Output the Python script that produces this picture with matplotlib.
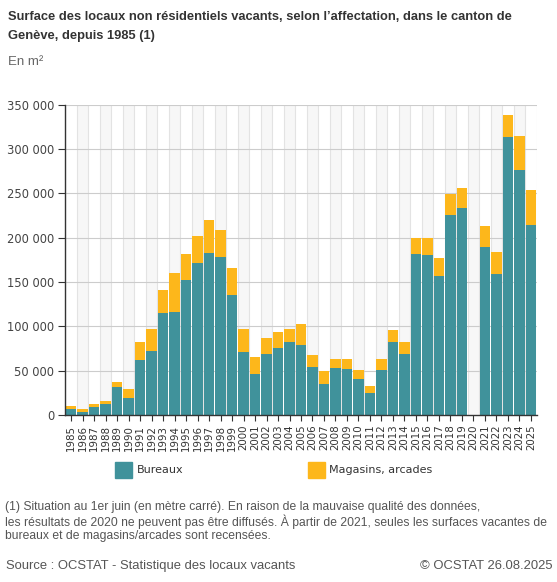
import matplotlib
matplotlib.use("Agg")
import matplotlib.pyplot as plt
import numpy as np
from matplotlib.patches import Rectangle

years = [str(y) for y in range(1985, 2026)]

# total surface (top of stacked bar) and offices; 2020 not published
bureaux = [6800, 3800, 9000, 12800, 32000, 19500, 62400, 72200, 115000, 116500,
           152300, 171400, 182700, 178200, 135300, 71000, 46200, 68800, 75900, 82300,
           78900, 54500, 35300, 53400, 51900, 40600, 24800, 50700, 82300, 68800,
           181600, 180400, 156800, 225600, 233500, 0, 189500, 159000, 313500, 276300,
           214300]
total = [10500, 6800, 12400, 15800, 37200, 29300, 82300, 97000, 141000, 160100,
         181600, 201900, 219900, 208600, 165800, 97000, 65400, 86800, 93600, 97000,
         102600, 67700, 49600, 63500, 63500, 50700, 33100, 63500, 96200, 82300,
         200000, 200000, 177100, 249600, 256000, 0, 213200, 183800, 338400, 314700,
         253800]
magasins = [t - b for t, b in zip(total, bureaux)]

yticks = [0, 50000, 100000, 150000, 200000, 250000, 300000, 350000]

c_bur = "#40929b"
c_mag = "#fdb71b"

fig = plt.figure(figsize=(5.57, 5.82), dpi=100)
ax = fig.add_axes([65.3 / 557, 1 - 415 / 582, (536.7 - 65.3) / 557, (415 - 104.7) / 582])

x = np.arange(len(years))
for i in x:
    if i % 2 == 1:
        ax.axvspan(i - 0.5, i + 0.5, color="#f7f7f7", zorder=0, lw=0)
for i in range(len(years) + 1):
    ax.axvline(i - 0.5, color="#e3e3e3", lw=0.8, zorder=0.5)
for v in yticks[1:]:
    ax.axhline(v, color="#cccccc", lw=0.8, zorder=0.6)

ax.bar(x, bureaux, width=0.88, color=c_bur, zorder=2, lw=0)
ax.bar(x, magasins, bottom=bureaux, width=0.88, color=c_mag, zorder=2, lw=0)

ax.set_xlim(-0.5, len(years) - 0.5)
ax.set_ylim(0, 350000)
ax.set_yticks(yticks)
ax.set_yticklabels([f"{v:,}".replace(",", " ") for v in yticks], fontsize=8.3, color="#444444")
ax.set_xticks(x)
ax.set_xticklabels(years, rotation=90, fontsize=7.4, color="#333333")
ax.tick_params(axis="y", length=5, width=0.8, color="#333333", pad=3)
ax.tick_params(axis="x", length=4, width=0.8, color="#333333", pad=3)
for s in ["top", "right"]:
    ax.spines[s].set_visible(False)
for s in ["left", "bottom"]:
    ax.spines[s].set_color("#333333")
    ax.spines[s].set_linewidth(1.0)

ff = "Liberation Sans"
fig.text(8 / 557, 1 - 11 / 582, "Surface des locaux non résidentiels vacants, selon l\u2019affectation, dans le canton de\nGenève, depuis 1985 (1)",
         fontsize=9.3, fontweight="bold", family=ff, color="#333333", va="top", ha="left", linespacing=1.75)
fig.text(8 / 557, 1 - 62 / 582, "En m²", fontsize=9.5, family=ff, color="#666666", va="center", ha="left")

# legend
fig.patches.append(Rectangle((115 / 557, 1 - 478 / 582), 16.5 / 557, 16.5 / 582, transform=fig.transFigure,
                             color=c_bur, figure=fig))
fig.text(137 / 557, 1 - 470 / 582, "Bureaux", fontsize=8.0, color="#333333", va="center", ha="left")
fig.patches.append(Rectangle((308 / 557, 1 - 478 / 582), 16.5 / 557, 16.5 / 582, transform=fig.transFigure,
                             color=c_mag, figure=fig))
fig.text(329 / 557, 1 - 470 / 582, "Magasins, arcades", fontsize=8.0, color="#333333", va="center", ha="left")

note = ("(1) Situation au 1er juin (en mètre carré). En raison de la mauvaise qualité des données,\n"
        "les résultats de 2020 ne peuvent pas être diffusés. À partir de 2021, seules les surfaces vacantes de\n"
        "bureaux et de magasins/arcades sont recensées.")
fig.text(5 / 557, 1 - 501 / 582, note, fontsize=8.7, family=ff, color="#555555", va="top", ha="left",
         linespacing=1.14)
fig.text(6 / 557, 1 - 566 / 582, "Source : OCSTAT - Statistique des locaux vacants", fontsize=9.4, family=ff,
         color="#555555", va="center", ha="left")
fig.text(553 / 557, 1 - 566 / 582, "© OCSTAT 26.08.2025", fontsize=9.4, family=ff,
         color="#555555", va="center", ha="right")

fig.savefig("out.png", dpi=100)
